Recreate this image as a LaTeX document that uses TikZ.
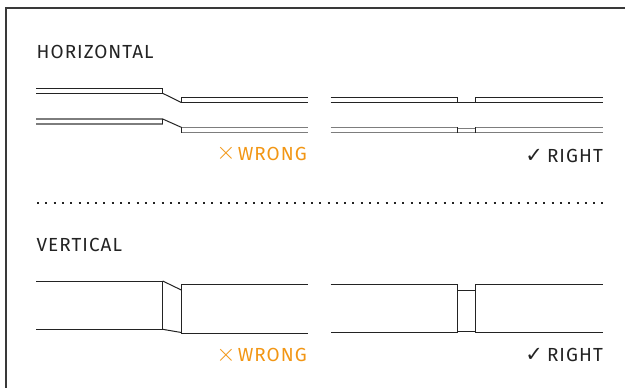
\documentclass[tikz,border=0pt]{standalone}
\usepackage{fontspec}
\setmainfont{Fira Sans}
\newfontfamily\spfont[LetterSpace=5.5]{Fira Sans}
\newfontfamily\symfont{DejaVu Sans}
\definecolor{wrongc}{RGB}{242,150,20}
\definecolor{linec}{RGB}{35,35,35}
\definecolor{pipegray}{RGB}{125,125,125}
\newcommand{\crossmk}{\raisebox{0.3bp}{\fontsize{30}{30}\selectfont$\times$}}
\newcommand{\checkmk}{{\symfont\fontsize{21}{24}\selectfont ✓}}
\begin{document}
\begin{tikzpicture}[x=1bp,y=-1bp,
  pipe/.style={draw=linec,line width=1bp},
  pipeg/.style={draw=pipegray,line width=1.2bp},
  frame/.style={draw=linec!90,line width=1.3bp},
  title/.style={anchor=base west,inner sep=0pt,font=\spfont\fontsize{19}{21}\selectfont,text=linec},
  lab/.style={anchor=base east,inner sep=0pt,font=\spfont\fontsize{19}{21}\selectfont},
  dotline/.style={draw=linec,line width=2bp,dash pattern=on 2bp off 6.3bp}]
\useasboundingbox (0,0) rectangle (625,387);
\fill[white] (0,0) rectangle (625,387);
% frame
\coordinate (fb) at (6,390);
\coordinate (ftl) at (6,8);
\coordinate (fr) at (628,8);
\draw[frame] (fb) -- (ftl) -- (fr);
% titles
\node[title] (th) at (36.5,58.3) {HORIZONTAL};
\node[title] (tv) at (36.5,251) {VERTICAL};
% dotted separator
\coordinate (d1) at (37,203);
\coordinate (d2) at (606,203);
\draw[dotline] (d1) -- (d2);
% ---------- horizontal wrong ----------
\draw[pipe] (36,88.3) -- (162.7,88.3) -- (162.7,93.3) -- (36,93.3);
\draw[pipe] (162.7,93.3) -- (181.3,102.5);
\draw[pipe] (307.5,97.3) -- (181.3,97.3) -- (181.3,102.5) -- (307.5,102.5);
\draw[pipeg] (36,119) -- (162.7,119);
\draw[pipeg] (36,124) -- (162.7,124);
\draw[pipe] (162.7,119) -- (162.7,124);
\draw[pipe] (162.7,119) -- (181.3,127.3);
\draw[pipeg] (181.3,127.3) -- (307.5,127.3);
\draw[pipeg] (181.3,132.7) -- (307.5,132.7);
\draw[pipe] (181.3,127.3) -- (181.3,132.7);
% ---------- horizontal right ----------
\draw[pipe] (330.7,97.3) -- (457.3,97.3) -- (457.3,102.5);
\draw[pipe] (602.7,97.3) -- (475.7,97.3) -- (475.7,102.5);
\draw[pipe] (330.7,102.5) -- (602.7,102.5);
\draw[pipeg] (330.7,127.3) -- (457.3,127.3);
\draw[pipeg] (475.7,127.3) -- (602.7,127.3);
\draw[pipeg] (457.3,128.5) -- (475.7,128.5);
\draw[pipeg] (330.7,132.7) -- (602.7,132.7);
\draw[pipe] (457.3,127.3) -- (457.3,132.7);
\draw[pipe] (475.7,127.3) -- (475.7,132.7);
% ---------- vertical wrong ----------
\draw[pipe] (36,281) -- (162.7,281) -- (162.7,329.3) -- (36,329.3);
\draw[pipe] (162.7,281) -- (181.3,290);
\draw[pipe] (162.7,329.3) -- (181.3,332.5);
\draw[pipe] (307.5,284.7) -- (181.3,284.7) -- (181.3,333) -- (307.5,333);
% ---------- vertical right ----------
\draw[pipe] (330.7,284.7) -- (457.3,284.7) -- (457.3,332) -- (330.7,332);
\draw[pipe] (602.7,284.7) -- (475.7,284.7) -- (475.7,332) -- (602.7,332);
\draw[pipe] (457.3,290.7) -- (475.7,290.7);
\draw[pipe] (457.3,331.7) -- (475.7,331.7);
% labels
\node[lab,text=wrongc] (w1) at (307,160) {\crossmk\hspace{2bp}WRONG};
\node[lab,text=linec] (r1) at (603,162) {\checkmk\hspace{4bp}RIGHT};
\node[lab,text=wrongc] (w2) at (307,361.7) {\crossmk\hspace{2bp}WRONG};
\node[lab,text=linec] (r2) at (603,361.7) {\checkmk\hspace{4bp}RIGHT};
\end{tikzpicture}
\end{document}
